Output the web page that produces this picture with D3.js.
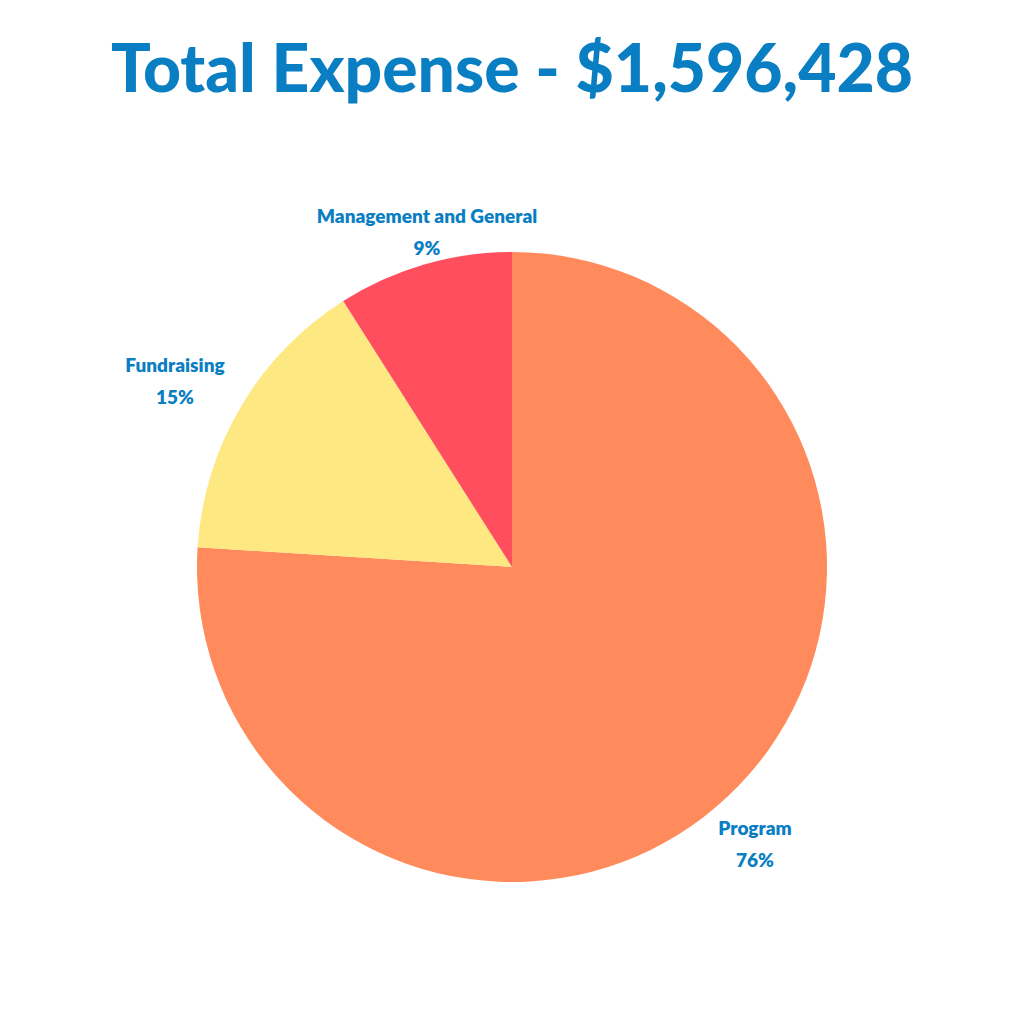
<!DOCTYPE html>
<html><head><meta charset="utf-8">
<script src="https://cdn.jsdelivr.net/npm/d3@7"></script>
<style>body{margin:0;background:#fff}</style></head>
<body><svg id="c" width="1024" height="1024"></svg>
<script>
const categories = ["Program", "Fundraising", "Management and General"];
const values = [76, 15, 9];
const labels = ["76%", "15%", "9%"];
const colors = ["#FF8A5B", "#FDE882", "#FF4F5E"];
const labelPos = [[755, 835], [175, 372], [427, 223]];

const svg = d3.select("#c");
svg.append("text").attr("x", 512).attr("y", 92).attr("text-anchor", "middle")
  .attr("font-family", "Lato, 'Open Sans', sans-serif").attr("font-weight", 900)
  .attr("font-size", 66).attr("fill", "#0A7EC2").text("Total Expense -  $1,596,428");

const cx = 512, cy = 567, r = 315;
const pie = d3.pie().sort(null).value(d => d)(values);
const arc = d3.arc().innerRadius(0).outerRadius(r);
const g = svg.append("g").attr("transform", `translate(${cx},${cy})`);
g.selectAll("path").data(pie).join("path").attr("d", arc).attr("fill", (d, i) => colors[i]);

categories.forEach((c, i) => {
  const t = svg.append("text").attr("text-anchor", "middle")
    .attr("font-family", "Lato, sans-serif").attr("font-weight", 800)
    .attr("font-size", 19).attr("fill", "#0A7EC2");
  t.append("tspan").attr("x", labelPos[i][0]).attr("y", labelPos[i][1]).text(c);
  t.append("tspan").attr("x", labelPos[i][0]).attr("y", labelPos[i][1] + 32).text(labels[i]);
});
</script></body></html>
